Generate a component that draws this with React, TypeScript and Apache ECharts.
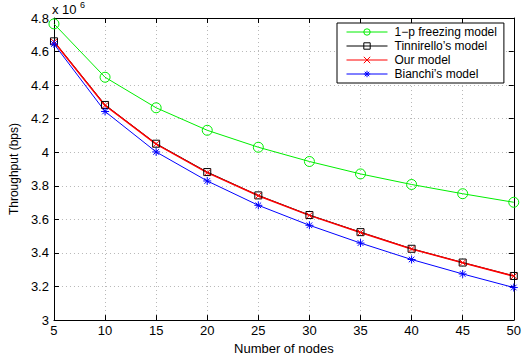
import React, { useEffect, useRef } from "react";
import * as echarts from "echarts";

const nodes = [5, 10, 15, 20, 25, 30, 35, 40, 45, 50];
const freezing = [4.765, 4.447, 4.265, 4.131, 4.03, 3.945, 3.871, 3.808, 3.753, 3.702];
const tinnirello = [4.661, 4.282, 4.051, 3.882, 3.743, 3.626, 3.524, 3.425, 3.343, 3.263];
const ours = [4.658, 4.279, 4.049, 3.879, 3.741, 3.624, 3.522, 3.424, 3.342, 3.262];
const bianchi = [4.645, 4.243, 4.002, 3.829, 3.684, 3.565, 3.459, 3.361, 3.275, 3.194];
const seriesNames = ["1\u2212p freezing model", "Tinnirello\u2019s model", "Our model", "Bianchi\u2019s model"];

const FONT = "'Liberation Sans', Arial, Helvetica, sans-serif";

const CIRCLE = "path://M1,0 A1,1 0 1,1 -1,0 A1,1 0 1,1 1,0 Z";
const SQUARE = "path://M-1,-1 L1,-1 L1,1 L-1,1 Z";
const CROSS = "path://M-1,-1 L1,1 M-1,1 L1,-1";
const STAR = "path://M0,-1 L0,1 M-1,0 L1,0 M-0.7,-0.7 L0.7,0.7 M-0.7,0.7 L0.7,-0.7";

function pairs(ys: number[]) {
  return nodes.map((x, i) => [x, ys[i]]);
}

export default function App() {
  const ref = useRef<HTMLDivElement>(null);
  useEffect(() => {
    if (!ref.current) return;
    const chart = echarts.init(ref.current, undefined, { renderer: "svg" });
    const mk = (
      name: string,
      ys: number[],
      color: string,
      symbol: string,
      size: number,
      lw: number
    ) => ({
      name,
      type: "line",
      data: pairs(ys),
      symbol,
      symbolSize: size,
      showSymbol: true,
      lineStyle: { color, width: lw },
      itemStyle: { color: "rgba(0,0,0,0)", borderColor: color, borderWidth: 1 },
      emphasis: { disabled: true },
      z: 2,
    });
    chart.setOption({
      animation: false,
      textStyle: { fontFamily: FONT, color: "#000" },
      grid: { left: 52, right: 8, top: 18, bottom: 36 },
      xAxis: [
        {
          type: "value",
          min: 5,
          max: 50,
          interval: 5,
          name: "Number of nodes",
          nameLocation: "middle",
          nameGap: 17,
          nameTextStyle: { fontSize: 13, color: "#000", fontFamily: FONT },
          axisLine: { lineStyle: { color: "#000", width: 1 } },
          axisTick: { inside: true, length: 5, lineStyle: { color: "#000" } },
          axisLabel: { fontSize: 13, color: "#000", margin: 4, fontFamily: FONT },
          splitLine: { show: true, lineStyle: { color: "#b8b8b8", type: [1, 3], width: 1 } },
        },
        {
          type: "value",
          position: "top",
          min: 5,
          max: 50,
          interval: 5,
          axisLine: { show: true, lineStyle: { color: "#000", width: 1 } },
          axisTick: { show: true, inside: true, length: 5, lineStyle: { color: "#000" } },
          axisLabel: { show: false },
          splitLine: { show: false },
        },
      ],
      yAxis: [
        {
          type: "value",
          min: 3,
          max: 4.8,
          interval: 0.2,
          name: "Throughput (bps)",
          nameLocation: "middle",
          nameGap: 33,
          nameTextStyle: { fontSize: 12, color: "#000", fontFamily: FONT },
          axisLine: { show: true, lineStyle: { color: "#000", width: 1 } },
          axisTick: { show: true, inside: true, length: 5, lineStyle: { color: "#000" } },
          axisLabel: {
            fontSize: 13,
            color: "#000",
            margin: 5,
            fontFamily: FONT,
            formatter: (v: number) => String(+v.toFixed(1)),
          },
          splitLine: { show: true, lineStyle: { color: "#b8b8b8", type: [1, 3], width: 1 } },
        },
        {
          type: "value",
          position: "right",
          min: 3,
          max: 4.8,
          interval: 0.2,
          axisLine: { show: true, lineStyle: { color: "#000", width: 1 } },
          axisTick: { show: true, inside: true, length: 5, lineStyle: { color: "#000" } },
          axisLabel: { show: false },
          splitLine: { show: false },
        },
      ],
      legend: {
        orient: "vertical",
        left: 337,
        top: 23,
        padding: [2, 7, 2, 9],
        itemWidth: 41,
        itemHeight: 8,
        itemGap: 0,
        borderColor: "#000",
        borderWidth: 1,
        backgroundColor: "#fff",
        itemStyle: { borderWidth: 1 },
        lineStyle: { width: 1 },
        textStyle: { fontSize: 12, color: "#000", fontFamily: FONT, lineHeight: 14, padding: [0, 0, 0, 2] },
        data: seriesNames,
      },
      graphic: [
        {
          type: "text",
          left: 52,
          top: 3,
          style: { text: "x 10", fontSize: 13, fill: "#000", fontFamily: FONT },
        },
        {
          type: "text",
          left: 80,
          top: 0,
          style: { text: "6", fontSize: 9, fill: "#000", fontFamily: FONT },
        },
      ],
      series: [
        mk(seriesNames[0], freezing, "#00ee00", CIRCLE, 10, 1),
        mk(seriesNames[1], tinnirello, "#000000", SQUARE, 7, 1),
        mk(seriesNames[2], ours, "#ff0000", CROSS, 6, 1.5),
        mk(seriesNames[3], bianchi, "#0000ff", STAR, 8, 1),
      ],
    });
    return () => chart.dispose();
  }, []);
  return <div ref={ref} style={{ width: 524, height: 360, position: "absolute", left: 0, top: 0 }} />;
}
